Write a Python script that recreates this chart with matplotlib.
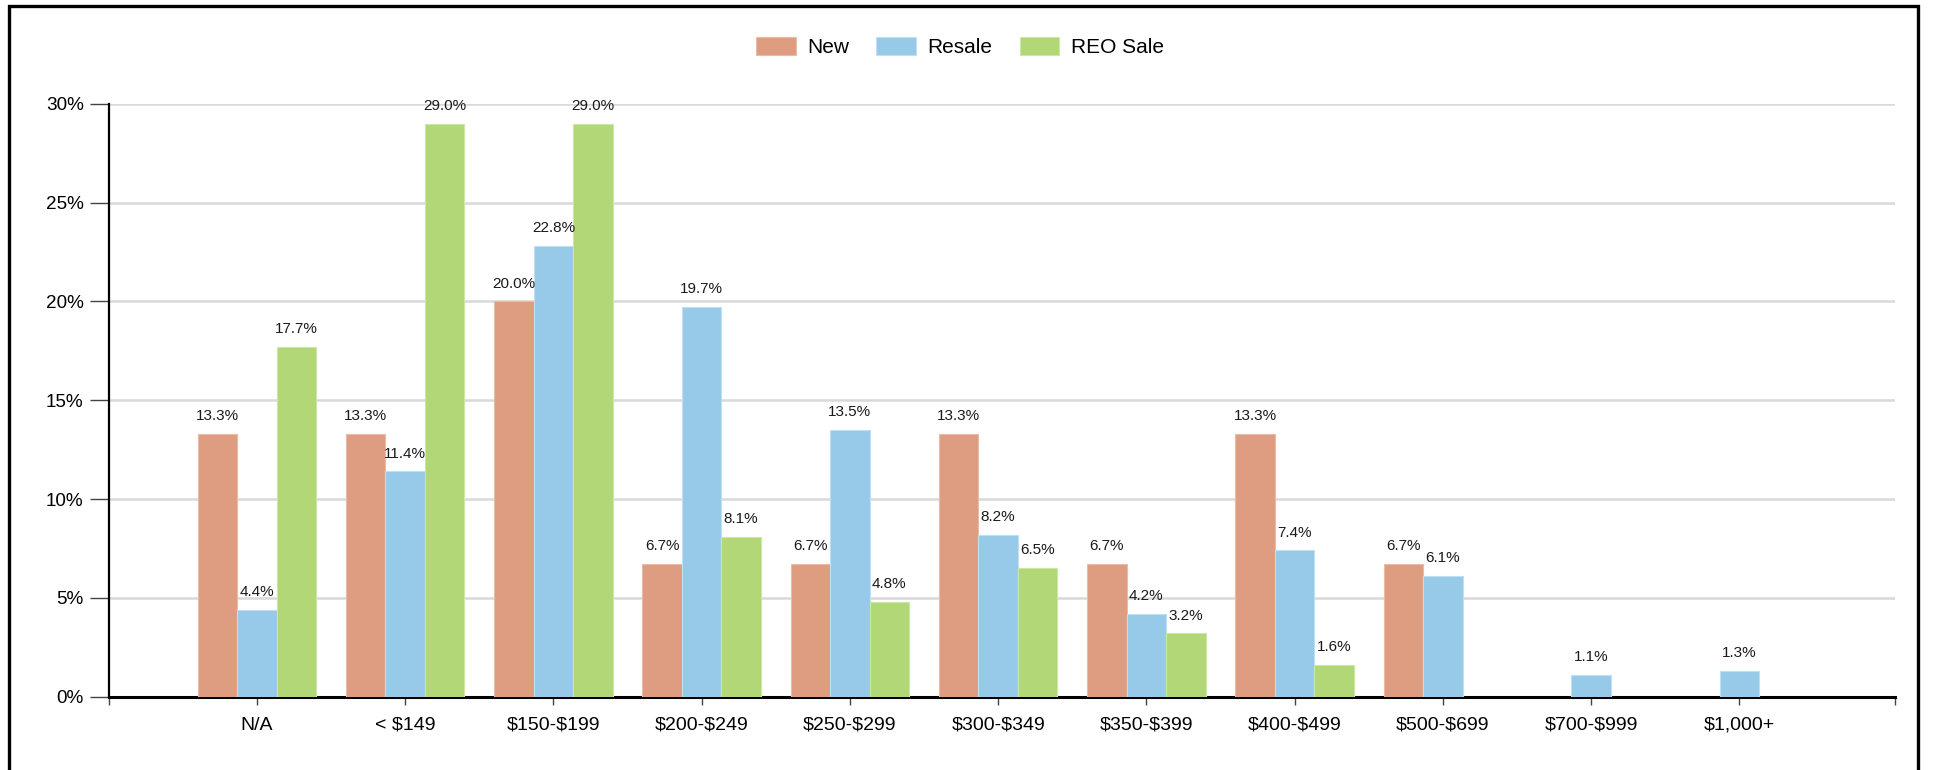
import matplotlib
matplotlib.use("Agg")
import matplotlib.pyplot as plt
from matplotlib.patches import Patch, Rectangle
import numpy as np

plt.rcParams['font.family'] = ['Liberation Sans', 'DejaVu Sans']
plt.rcParams['text.parse_math'] = False

categories = ["N/A", "< $149", "$150-$199", "$200-$249", "$250-$299", "$300-$349",
              "$350-$399", "$400-$499", "$500-$699", "$700-$999", "$1,000+"]
series_names = ["New", "Resale", "REO Sale"]
new_vals = [13.3, 13.3, 20.0, 6.7, 6.7, 13.3, 6.7, 13.3, 6.7, None, None]
resale_vals = [4.4, 11.4, 22.8, 19.7, 13.5, 8.2, 4.2, 7.4, 6.1, 1.1, 1.3]
reo_vals = [17.7, 29.0, 29.0, 8.1, 4.8, 6.5, 3.2, 1.6, None, None, None]
y_ticks = [0, 5, 10, 15, 20, 25, 30]

colors = ["#DE9D80", "#97CAE9", "#B1D777"]
edge_colors = ["#EBBBA5", "#BFE0F3", "#CDE7A6"]

fig = plt.figure(figsize=(19.37, 7.70), dpi=100)
ax = fig.add_axes([0.0561, 0.0952, 0.9222, 0.7700])

x = np.arange(len(categories))
bw = 0.8 / 3
for k, vals in enumerate([new_vals, resale_vals, reo_vals]):
    for i, v in enumerate(vals):
        if v is None:
            continue
        xi = x[i] + (k - 1) * bw
        ax.bar(xi, v, width=bw, color=colors[k], edgecolor=edge_colors[k],
               linewidth=0.8, zorder=3)
        ax.annotate(f"{v:.1f}%", (xi, v), xytext=(0, 10), textcoords="offset points",
                    ha="center", va="baseline", fontsize=11, color="#1a1a1a",
                    annotation_clip=False, zorder=4)

ax.set_xlim(-1, 11.05)
ax.set_ylim(0, 30)
ax.set_yticks(y_ticks)
ax.set_yticklabels([f"{t}%" for t in y_ticks], fontsize=13.6)
ax.set_xticks(x)
ax.set_xticklabels(categories, fontsize=14)
ax.set_xticks([-1, 11.05], minor=True)

ax.grid(axis="y", color="#d9d9d9", linewidth=1.8, zorder=0)
ax.set_axisbelow(True)
for s in ["top", "right"]:
    ax.spines[s].set_visible(False)
ax.spines["left"].set_linewidth(1.6)
ax.spines["bottom"].set_linewidth(2.2)
ax.spines["left"].set_color("black")
ax.spines["bottom"].set_color("black")
ax.tick_params(axis="y", length=14, width=1, color="#444444", pad=4, labelcolor="black")
ax.tick_params(axis="x", which="both", length=5.5, width=1, color="#444444", pad=9,
               labelcolor="black")

handles = [Patch(facecolor=c, edgecolor=e, linewidth=0.8) for c, e in zip(colors, edge_colors)]
fig.legend(handles, series_names, loc="center", bbox_to_anchor=(0.4956, 0.939), ncol=3,
           frameon=False, fontsize=15, handlelength=1.9, handleheight=0.95,
           handletextpad=0.55, columnspacing=1.3)

# Outer frame around the chart
fig.patches.append(Rectangle((8.6 / 1937, -0.05), (1918 - 8.6) / 1937, 1.05 - 6 / 770,
                             transform=fig.transFigure, fill=False, edgecolor="black",
                             linewidth=2.4, zorder=10))

fig.savefig("out.png", dpi=100, facecolor="white")
